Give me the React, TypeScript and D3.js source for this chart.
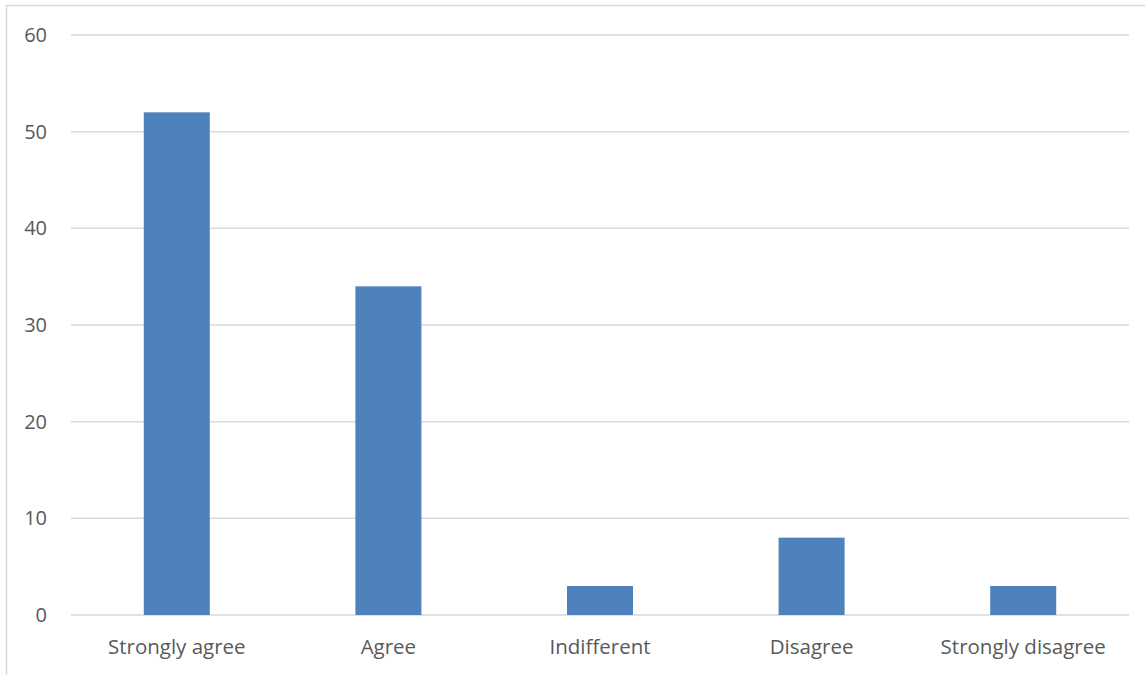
import React from "react";
import * as d3 from "d3";

const categories = ["Strongly agree", "Agree", "Indifferent", "Disagree", "Strongly disagree"];
const values = [52, 34, 3, 8, 3];
const yTicks = [0, 10, 20, 30, 40, 50, 60];

export default function App() {
  const W = 1145, H = 675;
  const left = 71, right = 1129, top = 35, bottom = 615;
  const x = d3.scaleBand<string>().domain(categories).range([left, right]).paddingInner(0.688).paddingOuter(0.344);
  const y = d3.scaleLinear().domain([0, 60]).range([bottom, top]);
  const font = "'Open Sans', 'Liberation Sans', sans-serif";
  return (
    <svg width={W} height={H} style={{ position: "absolute", left: 0, top: 0, background: "#fff" }}>
      <rect x={6.5} y={5.5} width={1160} height={700} fill="#fff" stroke="#d9d9d9" strokeWidth={1.5} />
      {yTicks.map((t) => (
        <g key={t}>
          <line x1={left} x2={right} y1={y(t)} y2={y(t)} stroke="#d9d9d9" strokeWidth={1.5} />
          <text x={47} y={y(t)} dy="0.35em" textAnchor="end" fontFamily={font} fontSize={20} fill="#595959">{t}</text>
        </g>
      ))}
      {categories.map((c, i) => (
        <rect key={c} x={x(c)} y={y(values[i])} width={x.bandwidth()} height={y(0) - y(values[i])} fill="#4f81bd" />
      ))}
      {categories.map((c) => (
        <text key={c} x={(x(c) as number) + x.bandwidth() / 2} y={654} textAnchor="middle" fontFamily={font} fontSize={20.5} fill="#595959">{c}</text>
      ))}
    </svg>
  );
}
